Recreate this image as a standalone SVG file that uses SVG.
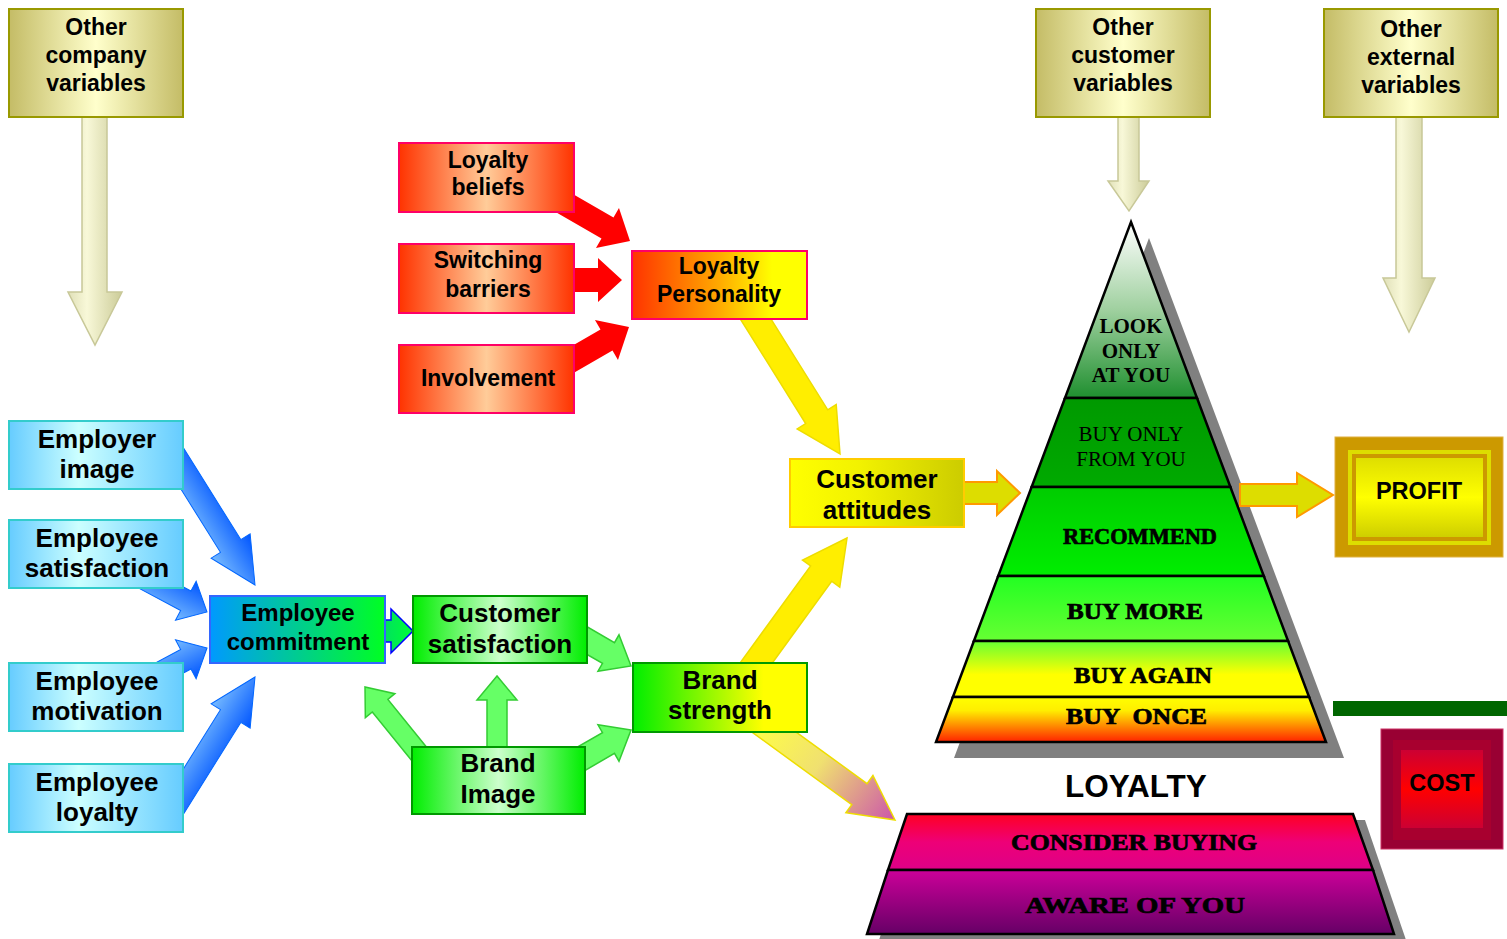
<svg xmlns="http://www.w3.org/2000/svg" width="1507" height="939" viewBox="0 0 1507 939">
<defs>
<linearGradient id="gTan" x1="0" y1="0" x2="1" y2="0"><stop offset="0" stop-color="#c4bc66"/><stop offset="0.5" stop-color="#ffffcc"/><stop offset="1" stop-color="#c4bc66"/></linearGradient>
<linearGradient id="gTanArrow" x1="0" y1="0" x2="1" y2="0"><stop offset="0" stop-color="#e0e0b8"/><stop offset="0.35" stop-color="#f8f8d8"/><stop offset="1" stop-color="#cccc99"/></linearGradient>
<linearGradient id="gCyan" x1="0" y1="0" x2="1" y2="0"><stop offset="0" stop-color="#66ccff"/><stop offset="0.4" stop-color="#ccffff"/><stop offset="1" stop-color="#66ccff"/></linearGradient>
<linearGradient id="gCommit" x1="0" y1="0" x2="1" y2="0"><stop offset="0" stop-color="#0099ff"/><stop offset="1" stop-color="#00ff22"/></linearGradient>
<linearGradient id="gSmall" x1="0" y1="0" x2="1" y2="0"><stop offset="0" stop-color="#00dd66"/><stop offset="1" stop-color="#00ff33"/></linearGradient>
<linearGradient id="gGreen" x1="0" y1="0" x2="1" y2="0"><stop offset="0" stop-color="#00ee00"/><stop offset="0.5" stop-color="#ccffcc"/><stop offset="1" stop-color="#00ee00"/></linearGradient>
<linearGradient id="gBrand" x1="0" y1="0" x2="1" y2="0"><stop offset="0" stop-color="#00ee00"/><stop offset="0.75" stop-color="#ffff00"/><stop offset="1" stop-color="#ffff00"/></linearGradient>
<linearGradient id="gRed" x1="0" y1="0" x2="1" y2="0"><stop offset="0" stop-color="#ff3300"/><stop offset="0.5" stop-color="#ffcc99"/><stop offset="1" stop-color="#ff3300"/></linearGradient>
<linearGradient id="gLP" x1="0" y1="0" x2="1" y2="0"><stop offset="0" stop-color="#ff3300"/><stop offset="0.5" stop-color="#ffaa00"/><stop offset="0.8" stop-color="#ffff00"/><stop offset="1" stop-color="#ffff00"/></linearGradient>
<linearGradient id="gAtt" x1="0" y1="0" x2="1" y2="0"><stop offset="0" stop-color="#ffff00"/><stop offset="0.4" stop-color="#f2f200"/><stop offset="1" stop-color="#cccc00"/></linearGradient>
<linearGradient id="gBlueA" x1="0" y1="0" x2="0" y2="1"><stop offset="0" stop-color="#0055ff"/><stop offset="1" stop-color="#77bbff"/></linearGradient>
<linearGradient id="gBlueB" x1="0" y1="0" x2="0" y2="1"><stop offset="0" stop-color="#77bbff"/><stop offset="1" stop-color="#0055ff"/></linearGradient>
<linearGradient id="gPink" x1="0" y1="0" x2="1" y2="0"><stop offset="0" stop-color="#ffff44"/><stop offset="0.45" stop-color="#f0e070"/><stop offset="1" stop-color="#cc55aa"/></linearGradient>
<linearGradient id="gYV" x1="0" y1="0" x2="0" y2="1"><stop offset="0" stop-color="#dddd00"/><stop offset="0.5" stop-color="#ffff00"/><stop offset="1" stop-color="#cccc00"/></linearGradient>
<linearGradient id="gRV" x1="0" y1="0" x2="0" y2="1"><stop offset="0" stop-color="#cc0033"/><stop offset="0.5" stop-color="#ff0000"/><stop offset="1" stop-color="#cc0033"/></linearGradient>
<linearGradient id="gL1" x1="0" y1="0" x2="0" y2="1"><stop offset="0" stop-color="#ffffff"/><stop offset="0.5" stop-color="#9fd09f"/><stop offset="1" stop-color="#1f8f2f"/></linearGradient>
<linearGradient id="gL2" x1="0" y1="0" x2="0" y2="1"><stop offset="0" stop-color="#009900"/><stop offset="1" stop-color="#00aa00"/></linearGradient>
<linearGradient id="gL3" x1="0" y1="0" x2="0" y2="1"><stop offset="0" stop-color="#00cc00"/><stop offset="1" stop-color="#00ee00"/></linearGradient>
<linearGradient id="gL4" x1="0" y1="0" x2="0" y2="1"><stop offset="0" stop-color="#22ff22"/><stop offset="1" stop-color="#66ff33"/></linearGradient>
<linearGradient id="gL5" x1="0" y1="0" x2="0" y2="1"><stop offset="0" stop-color="#66ff33"/><stop offset="0.6" stop-color="#ffff00"/><stop offset="1" stop-color="#ffff00"/></linearGradient>
<linearGradient id="gL6" x1="0" y1="0" x2="0" y2="1"><stop offset="0" stop-color="#ffff00"/><stop offset="0.3" stop-color="#ffee00"/><stop offset="1" stop-color="#ff2200"/></linearGradient>
<linearGradient id="gC1" x1="0" y1="0" x2="0" y2="1"><stop offset="0" stop-color="#ff0022"/><stop offset="0.5" stop-color="#ee0077"/><stop offset="1" stop-color="#dd0088"/></linearGradient>
<linearGradient id="gC2" x1="0" y1="0" x2="0" y2="1"><stop offset="0" stop-color="#cc0099"/><stop offset="1" stop-color="#660066"/></linearGradient>
</defs>
<style>
.t{font-family:"Liberation Sans",Arial,sans-serif;font-weight:bold;text-anchor:middle;fill:#000}
.f26{font-size:26px}.f24{font-size:24px}.f23{font-size:23px}
.ser{font-family:"Liberation Serif","Times New Roman",serif;text-anchor:middle;fill:#000}
.stn{font-family:"Liberation Serif","Times New Roman",serif;font-weight:bold;font-size:23px;fill:#000;stroke:#000;stroke-width:0.7}
.lay{stroke:#000;stroke-width:2.5;stroke-linejoin:miter}
.tanbox{fill:url(#gTan);stroke:#999900;stroke-width:2}
.tanarr{fill:url(#gTanArrow);stroke:#c8c898;stroke-width:1.5}
.cyan{fill:url(#gCyan);stroke:#33cccc;stroke-width:2}
.green{fill:url(#gGreen);stroke:#009900;stroke-width:2}
.red{fill:url(#gRed);stroke:#ff0066;stroke-width:2}
.ga{fill:#66ff66;stroke:#33cc33;stroke-width:1.5}
.ra{fill:#ff0000}
.ya{fill:#ffee00;stroke:#eedd00;stroke-width:1.5}
.yo{fill:#dddd00;stroke:#ff9900;stroke-width:2}
</style>

<g id="loyalty-pyramid">
<polygon points="1149,238 1344,758 954,758" fill="#808080"/>
<polygon class="lay" points="1131,222 1197,398 1065,398" fill="url(#gL1)"/>
<polygon class="lay" points="1065,398 1197,398 1230.4,487 1031.6,487" fill="url(#gL2)"/>
<polygon class="lay" points="1031.6,487 1230.4,487 1263.8,576 998.2,576" fill="url(#gL3)"/>
<polygon class="lay" points="998.2,576 1263.8,576 1288.1,641 973.9,641" fill="url(#gL4)"/>
<polygon class="lay" points="973.9,641 1288.1,641 1309.1,697 952.9,697" fill="url(#gL5)"/>
<polygon class="lay" points="952.9,697 1309.1,697 1326,742 936,742" fill="url(#gL6)"/>
<text class="ser" font-weight="bold" font-size="21" x="1131" y="333">LOOK</text>
<text class="ser" font-weight="bold" font-size="21" x="1131" y="358">ONLY</text>
<text class="ser" font-weight="bold" font-size="21" x="1131" y="382">AT YOU</text>
<text class="ser" font-size="21" x="1131" y="441">BUY ONLY</text>
<text class="ser" font-size="21" x="1131" y="466">FROM YOU</text>
<text class="stn" x="1063" y="544" textLength="154" lengthAdjust="spacingAndGlyphs">RECOMMEND</text>
<text class="stn" x="1067" y="619" textLength="136" lengthAdjust="spacingAndGlyphs">BUY MORE</text>
<text class="stn" x="1074" y="683" textLength="138" lengthAdjust="spacingAndGlyphs">BUY AGAIN</text>
<text class="stn" x="1066" y="724" textLength="141" lengthAdjust="spacingAndGlyphs" xml:space="preserve">BUY  ONCE</text>
</g>

<g id="loyalty-label"><text class="t" font-size="31.5" x="1136" y="797">LOYALTY</text></g>

<g id="awareness-base">
<polygon points="919,820 1365,820 1406,940 879,940" fill="#808080"/>
<polygon class="lay" points="907,814 1353,814 1373,870 888,870" fill="url(#gC1)"/>
<polygon class="lay" points="888,870 1373,870 1394,934 867,934" fill="url(#gC2)"/>
<text class="stn" x="1011" y="850" textLength="246" lengthAdjust="spacingAndGlyphs">CONSIDER BUYING</text>
<text class="stn" x="1025" y="913" textLength="220" lengthAdjust="spacingAndGlyphs">AWARE OF YOU</text>
</g>

<g id="profit">
<rect x="1335" y="437" width="168" height="120" fill="#cc9900" stroke="#e0b040" stroke-width="1"/>
<rect x="1348" y="450" width="143" height="95" fill="#dddd00"/>
<rect x="1354" y="456" width="131" height="83" fill="url(#gYV)" stroke="#cc9900" stroke-width="4"/>
<text class="t" font-size="23.5" x="1419" y="499">PROFIT</text>
</g>

<g id="divider"><rect x="1333" y="701" width="174" height="15" fill="#006600"/></g>

<g id="cost">
<rect x="1381" y="729" width="122" height="120" fill="#990033" stroke="#cc3366" stroke-width="1"/>
<rect x="1393" y="740" width="98" height="100" fill="#a8002f"/>
<rect x="1401" y="750" width="82" height="78" fill="url(#gRV)"/>
<text class="t" font-size="23.5" x="1442" y="791">COST</text>
</g>

<g id="connectors">
<polygon class="tanarr" points="82,117 107,117 107,292 122,292 95,345 68,292 82,292"/>
<polygon class="tanarr" points="1118,117 1139,117 1139,181 1149,181 1129,211 1108,181 1118,181"/>
<polygon class="tanarr" points="1396,117 1422,117 1422,278 1435,278 1409,332 1383,278 1396,278"/>

<polygon fill="url(#gBlueA)" stroke="#0066ff" stroke-width="1" transform="translate(255,585) rotate(58)" points="0,0 -46,-23 -46,-12 -170,-12 -170,12 -46,12 -46,23"/>
<polygon fill="url(#gBlueA)" stroke="#0066ff" stroke-width="1" transform="translate(207,612) rotate(28)" points="0,0 -24,-22 -24,-11 -80,-11 -80,11 -24,11 -24,22"/>
<polygon fill="url(#gBlueB)" stroke="#0066ff" stroke-width="1" transform="translate(207,648) rotate(-28)" points="0,0 -24,-22 -24,-11 -80,-11 -80,11 -24,11 -24,22"/>
<polygon fill="url(#gBlueB)" stroke="#0066ff" stroke-width="1" transform="translate(255,677) rotate(-58)" points="0,0 -46,-23 -46,-12 -170,-12 -170,12 -46,12 -46,23"/>

<polygon fill="url(#gSmall)" stroke="#0000ff" stroke-width="1.5" points="380,620 391,620 391,609 413,631 391,653 391,642 380,642"/>

<polygon class="ra" transform="translate(630,241) rotate(30)" points="0,0 -26,-23 -26,-12 -80,-12 -80,12 -26,12 -26,23"/>
<polygon class="ra" transform="translate(622,280)" points="0,0 -24,-22 -24,-12 -50,-12 -50,12 -24,12 -24,22"/>
<polygon class="ra" transform="translate(629,327) rotate(-30)" points="0,0 -26,-23 -26,-12 -80,-12 -80,12 -26,12 -26,23"/>

<polygon class="ga" transform="translate(631,666) rotate(30)" points="0,0 -26,-21 -26,-12 -60,-12 -60,12 -26,12 -26,21"/>
<polygon class="ga" transform="translate(631,730) rotate(-30)" points="0,0 -26,-21 -26,-12 -60,-12 -60,12 -26,12 -26,21"/>
<polygon class="ga" transform="translate(497,676) rotate(-90)" points="0,0 -24,-20 -24,-10 -75,-10 -75,10 -24,10 -24,20"/>
<polygon class="ga" transform="translate(365,687) rotate(-129)" points="0,0 -24,-19 -24,-10 -100,-10 -100,10 -24,10 -24,19"/>

<polygon class="ya" fill="#ffdd00" transform="translate(840,454) rotate(58)" points="0,0 -44,-23 -44,-13 -175,-13 -175,13 -44,13 -44,23"/>
<polygon class="ya" transform="translate(847,538) rotate(-54)" points="0,0 -44,-23 -44,-13 -170,-13 -170,13 -44,13 -44,23"/>
<polygon fill="url(#gPink)" stroke="#eedd00" stroke-width="1.5" transform="translate(895,820) rotate(36)" points="0,0 -44,-23 -44,-13 -170,-13 -170,13 -44,13 -44,23"/>

<polygon class="yo" points="964,482 997,482 997,471 1020,493 997,515 997,504 964,504"/>
<polygon class="yo" points="1240,484 1297,484 1297,473 1333,495 1297,517 1297,506 1240,506"/>
</g>

<g id="other-company-variables"><rect class="tanbox" x="9" y="9" width="174" height="108"/>
<text class="t f23" x="96" y="35">Other</text><text class="t f23" x="96" y="63">company</text><text class="t f23" x="96" y="91">variables</text></g>
<g id="other-customer-variables"><rect class="tanbox" x="1036" y="9" width="174" height="108"/>
<text class="t f23" x="1123" y="35">Other</text><text class="t f23" x="1123" y="63">customer</text><text class="t f23" x="1123" y="91">variables</text></g>
<g id="other-external-variables"><rect class="tanbox" x="1324" y="9" width="174" height="108"/>
<text class="t f23" x="1411" y="37">Other</text><text class="t f23" x="1411" y="65">external</text><text class="t f23" x="1411" y="93">variables</text></g>

<g id="employer-image"><rect class="cyan" x="9" y="421" width="174" height="68"/>
<text class="t f26" x="97" y="448">Employer</text><text class="t f26" x="97" y="478">image</text></g>
<g id="employee-satisfaction"><rect class="cyan" x="9" y="520" width="174" height="68"/>
<text class="t f26" x="97" y="547">Employee</text><text class="t f26" x="97" y="577">satisfaction</text></g>
<g id="employee-motivation"><rect class="cyan" x="9" y="663" width="174" height="68"/>
<text class="t f26" x="97" y="690">Employee</text><text class="t f26" x="97" y="720">motivation</text></g>
<g id="employee-loyalty"><rect class="cyan" x="9" y="764" width="174" height="68"/>
<text class="t f26" x="97" y="791">Employee</text><text class="t f26" x="97" y="821">loyalty</text></g>

<g id="employee-commitment"><rect x="210" y="596" width="175" height="67" fill="url(#gCommit)" stroke="#3366ff" stroke-width="2"/>
<text class="t f24" x="298" y="621">Employee</text><text class="t f24" x="298" y="650">commitment</text></g>

<g id="customer-satisfaction"><rect class="green" x="413" y="596" width="174" height="67"/>
<text class="t f26" x="500" y="622">Customer</text><text class="t f26" x="500" y="653">satisfaction</text></g>
<g id="brand-image"><rect class="green" x="412" y="747" width="173" height="67"/>
<text class="t f26" x="498" y="772">Brand</text><text class="t f26" x="498" y="803">Image</text></g>
<g id="brand-strength"><rect x="633" y="663" width="174" height="69" fill="url(#gBrand)" stroke="#009900" stroke-width="2"/>
<text class="t f26" x="720" y="689">Brand</text><text class="t f26" x="720" y="719">strength</text></g>

<g id="loyalty-beliefs"><rect class="red" x="399" y="143" width="175" height="69"/>
<text class="t f23" x="488" y="168">Loyalty</text><text class="t f23" x="488" y="195">beliefs</text></g>
<g id="switching-barriers"><rect class="red" x="399" y="244" width="175" height="69"/>
<text class="t f23" x="488" y="268">Switching</text><text class="t f23" x="488" y="297">barriers</text></g>
<g id="involvement"><rect class="red" x="399" y="345" width="175" height="68"/>
<text class="t f23" x="488" y="386">Involvement</text></g>
<g id="loyalty-personality"><rect x="632" y="251" width="175" height="68" fill="url(#gLP)" stroke="#ff0066" stroke-width="2"/>
<text class="t f23" x="719" y="274">Loyalty</text><text class="t f23" x="719" y="302">Personality</text></g>

<g id="customer-attitudes"><rect x="790" y="459" width="174" height="68" fill="url(#gAtt)" stroke="#ffcc00" stroke-width="2"/>
<text class="t f26" x="877" y="488">Customer</text><text class="t f26" x="877" y="519">attitudes</text></g>
</svg>
